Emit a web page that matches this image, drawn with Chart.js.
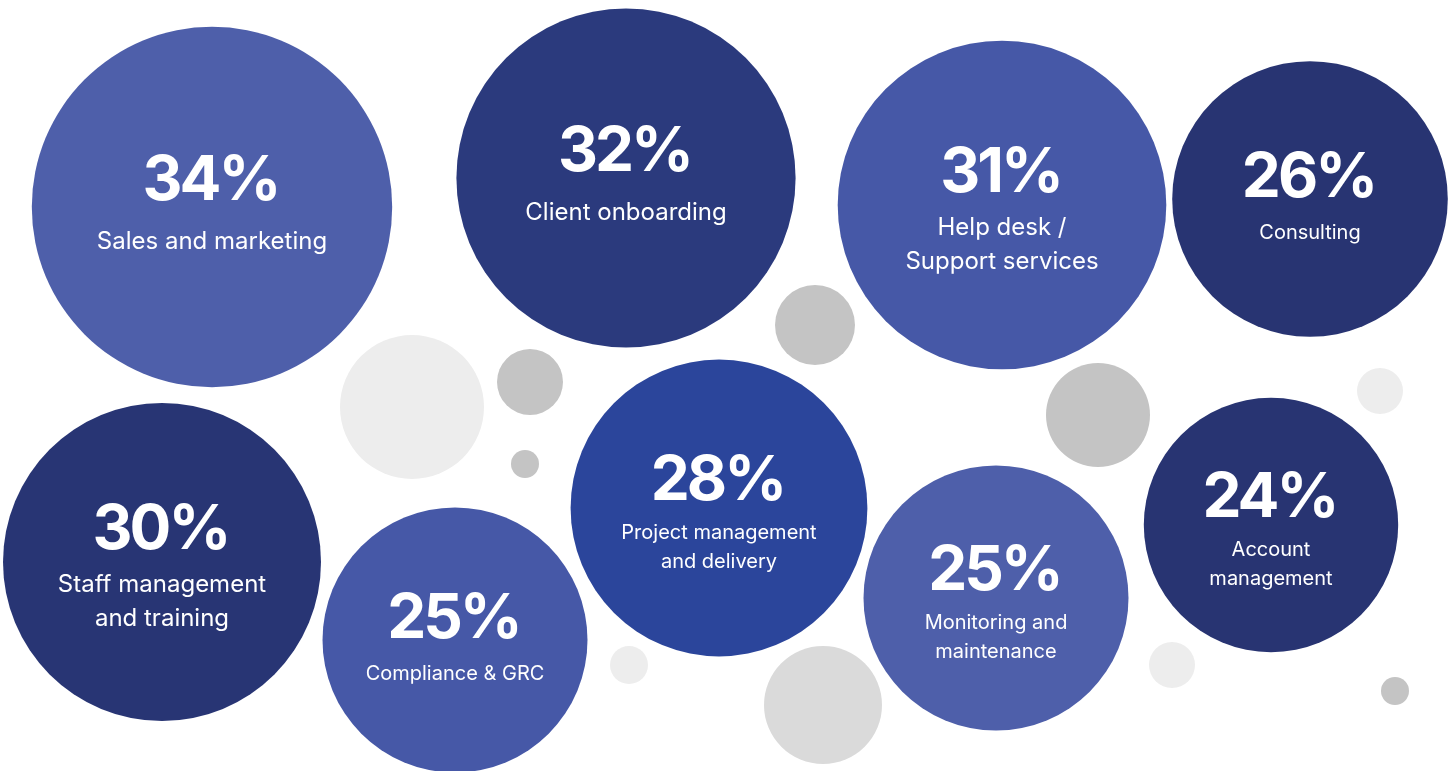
<!DOCTYPE html>
<html>
<head>
<meta charset="utf-8">
<title>Service areas</title>
<script src="https://cdn.jsdelivr.net/npm/chart.js@4.4.1/dist/chart.umd.min.js"></script>
<style>
  html, body { margin: 0; padding: 0; background: #fff; }
  #wrap { width: 1452px; height: 771px; }
</style>
</head>
<body>
<div id="wrap"><canvas id="bubbleChart" width="1452" height="771"></canvas></div>
<script>
// main bubbles
var labels = [
    ['Sales and marketing'],
    ['Client onboarding'],
    ['Help desk /', 'Support services'],
    ['Consulting'],
    ['Staff management', 'and training'],
    ['Compliance & GRC'],
    ['Project management', 'and delivery'],
    ['Monitoring and', 'maintenance'],
    ['Account', 'management']
];
var percents = [34, 32, 31, 26, 30, 25, 28, 25, 24];
var posX = [212, 626, 1002, 1310, 162, 455, 719, 996, 1271];
var posY = [207, 178, 205, 199, 562, 640, 508, 598, 525];
var colors = ['#4e5faa', '#2b3a7d', '#4658a7', '#283472', '#283574', '#4658a7', '#2b459b', '#4e5faa', '#283472'];

// grey filler dots
var dotX = [412, 530, 525, 815, 1098, 1380, 629, 823, 1172, 1395];
var dotY = [407, 382, 464, 325, 415, 391, 665, 705, 665, 691];
var dotR = [72, 33, 14, 40, 52, 23, 19, 59, 23, 14];
var dotColors = ['#ededed', '#c4c4c4', '#c4c4c4', '#c4c4c4', '#c4c4c4', '#ededed', '#ededed', '#dadada', '#ededed', '#c4c4c4'];

var pxPerPercent = 5.3;

var bubbleData = percents.map(function(p, i) {
    return { x: posX[i], y: posY[i], r: p * pxPerPercent };
});
var dotData = dotR.map(function(r, i) {
    return { x: dotX[i], y: dotY[i], r: r };
});

// percentage + caption inside each bubble
var bubbleText = {
    id: 'bubbleText',
    afterDatasetsDraw: function(chart) {
        var ctx = chart.ctx;
        var meta = chart.getDatasetMeta(0);
        ctx.save();
        ctx.fillStyle = '#ffffff';
        ctx.textAlign = 'center';
        ctx.textBaseline = 'middle';
        meta.data.forEach(function(el, i) {
            var lines = labels[i];
            var big = percents[i] >= 30;
            var multi = lines.length > 1;
            var fs = big ? 24 : 20;
            var lh = big ? 34 : 29;
            var gap = big ? (multi ? 55 : 61) : (multi ? 52 : 55);
            var top = el.y + (big ? (multi ? -32 : -26) : (multi ? -27 : -21));
            ctx.font = 'bold 62px Inter';
            ctx.letterSpacing = '-3px';
            ctx.fillText(percents[i] + '%', el.x - 1.5, top);
            ctx.font = fs + 'px Inter';
            ctx.letterSpacing = '0px';
            lines.forEach(function(line, j) {
                ctx.fillText(line, el.x, top + gap + j * lh);
            });
        });
        ctx.restore();
    }
};

document.fonts.load('bold 62px Inter').then(function() {
    var ctx = document.getElementById('bubbleChart').getContext('2d');
    new Chart(ctx, {
        type: 'bubble',
        data: {
            datasets: [{
                label: 'Share',
                data: bubbleData,
                backgroundColor: colors,
                borderWidth: 0,
                clip: false
            }, {
                label: 'dots',
                data: dotData,
                backgroundColor: dotColors,
                borderWidth: 0,
                clip: false
            }]
        },
        options: {
            responsive: false,
            animation: false,
            events: [],
            layout: { padding: 0, autoPadding: false },
            scales: {
                x: { type: 'linear', min: 0, max: 1452, display: false },
                y: { type: 'linear', min: 0, max: 771, reverse: true, display: false }
            },
            plugins: {
                legend: { display: false },
                tooltip: { enabled: false }
            }
        },
        plugins: [bubbleText]
    });
});
</script>
</body>
</html>
